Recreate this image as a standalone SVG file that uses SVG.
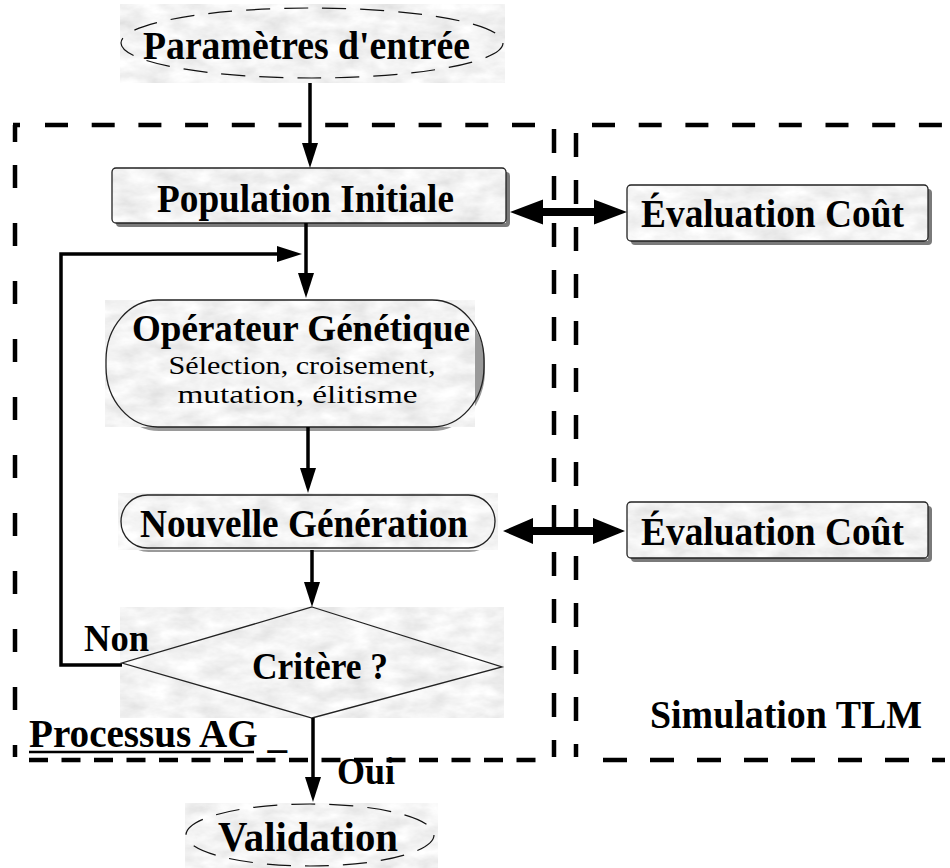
<svg xmlns="http://www.w3.org/2000/svg" width="950" height="868" viewBox="0 0 950 868">
<defs>
<filter id="marble" filterUnits="objectBoundingBox" x="0" y="0" width="1" height="1">
<feTurbulence type="fractalNoise" baseFrequency="0.035 0.07" numOctaves="4" seed="5" result="n"/>
<feColorMatrix in="n" type="matrix" values="0.35 0 0 0 0.72  0.35 0 0 0 0.72  0.35 0 0 0 0.72  0 0 0 0 1"/>
</filter>
<marker id="ah" markerUnits="userSpaceOnUse" markerWidth="26" markerHeight="18" refX="15" refY="8" orient="auto" overflow="visible">
<path d="M0,0 L25,8 L0,16 Z" fill="#000"/>
</marker>
<style>
.tex{filter:url(#marble);fill:#e6e6e6}
.box{fill:none;stroke:#222;stroke-width:1.3}
.shadow{fill:#7a7a7a}
.lshadow{fill:#9a9a9a}
.lbl{font-family:"Liberation Serif","Times New Roman",serif;font-weight:bold;font-size:40px;text-anchor:middle;fill:#000}
.sub{font-family:"Liberation Serif","Times New Roman",serif;font-size:26px;text-anchor:middle;fill:#000}
.conn{stroke:#000;stroke-width:3.5;fill:none}
.dash{stroke:#000;stroke-width:4.5;fill:none}
.ell{fill:none;stroke:#111;stroke-width:1.2;stroke-dasharray:24 14}
</style>
</defs>
<rect width="950" height="868" fill="#fff"/>

<g id="processus-ag">
<path class="dash" d="M13,125 H20 M15,125 V142"/>
<line class="dash" x1="45" y1="125" x2="545" y2="125" stroke-dasharray="23 23.7"/>
<line class="dash" x1="15" y1="165" x2="15" y2="757" stroke-dasharray="23 35"/>
<line class="dash" x1="554" y1="129" x2="554" y2="757" stroke-dasharray="24 23"/>
<line class="dash" x1="29" y1="760" x2="548" y2="760" stroke-dasharray="19 13.5"/>
<text class="lbl" x="29" y="747" style="text-anchor:start" textLength="258" lengthAdjust="spacingAndGlyphs">Processus AG _</text>
<line x1="29" y1="752" x2="254" y2="752" stroke="#000" stroke-width="2.5"/>
</g>

<g id="simulation-tlm">
<line class="dash" x1="592" y1="125" x2="950" y2="125" stroke-dasharray="23 23.7"/>
<line class="dash" x1="576" y1="133" x2="576" y2="757" stroke-dasharray="24 23"/>
<line class="dash" x1="603" y1="760" x2="945" y2="760" stroke-dasharray="24 23"/>
<text class="lbl" x="786" y="728" textLength="272" lengthAdjust="spacingAndGlyphs">Simulation TLM</text>
</g>

<g id="parametres">
<rect class="tex" x="120" y="4" width="385" height="79"/>
<ellipse class="ell" cx="312" cy="43" rx="191" ry="35"/>
<text class="lbl" x="306.5" y="59" textLength="327" lengthAdjust="spacingAndGlyphs">Paramètres d'entrée</text>
</g>

<g id="population">
<rect class="shadow" x="116" y="172" width="394" height="55" rx="4"/>
<rect class="tex" x="112" y="168" width="394" height="55"/>
<rect class="box" x="112" y="168" width="394" height="55" rx="4"/>
<text class="lbl" x="305.5" y="212" textLength="297" lengthAdjust="spacingAndGlyphs">Population Initiale</text>
</g>

<g id="evaluation1">
<rect class="shadow" x="631" y="189" width="301" height="56" rx="4"/>
<rect class="tex" x="627" y="185" width="301" height="56"/>
<rect class="box" x="627" y="185" width="301" height="56" rx="4"/>
<text class="lbl" x="772.5" y="227" textLength="263" lengthAdjust="spacingAndGlyphs">Évaluation Coût</text>
</g>

<g id="operateur">
<rect class="lshadow" x="107" y="304" width="378" height="127" rx="52" ry="60"/>
<rect class="tex" x="105" y="300" width="370" height="127"/>
<rect class="box" x="106" y="300" width="378" height="127" rx="52" ry="60"/>
<text class="lbl" x="301" y="341" style="font-size:38px" textLength="338" lengthAdjust="spacingAndGlyphs">Opérateur Génétique</text>
<text class="sub" x="302" y="374" textLength="267" lengthAdjust="spacingAndGlyphs">Sélection, croisement,</text>
<text class="sub" x="297.5" y="403" textLength="240" lengthAdjust="spacingAndGlyphs">mutation, élitisme</text>
</g>

<g id="nouvelle">
<rect class="lshadow" x="122" y="499" width="374" height="53" rx="26.5"/>
<rect class="tex" x="118" y="493" width="380" height="57"/>
<rect class="box" x="121" y="495" width="374" height="53" rx="26.5"/>
<text class="lbl" x="304" y="537" textLength="328" lengthAdjust="spacingAndGlyphs">Nouvelle Génération</text>
</g>

<g id="evaluation2">
<rect class="shadow" x="631" y="506" width="301" height="56" rx="4"/>
<rect class="tex" x="627" y="502" width="301" height="56"/>
<rect class="box" x="627" y="502" width="301" height="56" rx="4"/>
<text class="lbl" x="772.5" y="545" textLength="263" lengthAdjust="spacingAndGlyphs">Évaluation Coût</text>
</g>

<g id="critere">
<rect class="tex" x="120" y="607" width="384" height="111"/>
<polygon class="box" points="312,607 502,667 312,718 122,663"/>
<text class="lbl" x="320" y="679" style="font-size:37px" textLength="136" lengthAdjust="spacingAndGlyphs">Critère ?</text>
</g>

<g id="validation">
<rect class="tex" x="185" y="803" width="253" height="65"/>
<ellipse class="ell" cx="310" cy="835" rx="124" ry="31"/>
<text class="lbl" x="308" y="851" style="font-size:42px" textLength="180" lengthAdjust="spacingAndGlyphs">Validation</text>
</g>

<g id="connectors">
<line class="conn" x1="310" y1="83" x2="310" y2="158" marker-end="url(#ah)"/>
<line class="conn" x1="306" y1="223" x2="306" y2="288" marker-end="url(#ah)"/>
<path class="conn" d="M122,665 H61 V254 H292" marker-end="url(#ah)"/>
<line class="conn" x1="308" y1="427" x2="308" y2="483" marker-end="url(#ah)"/>
<line class="conn" x1="312" y1="550" x2="312" y2="597" marker-end="url(#ah)"/>
<line class="conn" x1="313" y1="718" x2="313" y2="792" marker-end="url(#ah)"/>
<polygon points="510,212 543,199.5 543,208 594,208 594,199.5 627,212 594,224.5 594,216 543,216 543,224.5" fill="#000"/>
<polygon points="503,531 533,518 533,527 593,527 593,518 625,531 593,544 593,535 533,535 533,544" fill="#000"/>
<text class="lbl" x="84" y="651" style="text-anchor:start;font-size:38px" textLength="65" lengthAdjust="spacingAndGlyphs">Non</text>
<text class="lbl" x="337" y="784" style="text-anchor:start;font-size:38px" textLength="58" lengthAdjust="spacingAndGlyphs">Oui</text>
</g>
</svg>
